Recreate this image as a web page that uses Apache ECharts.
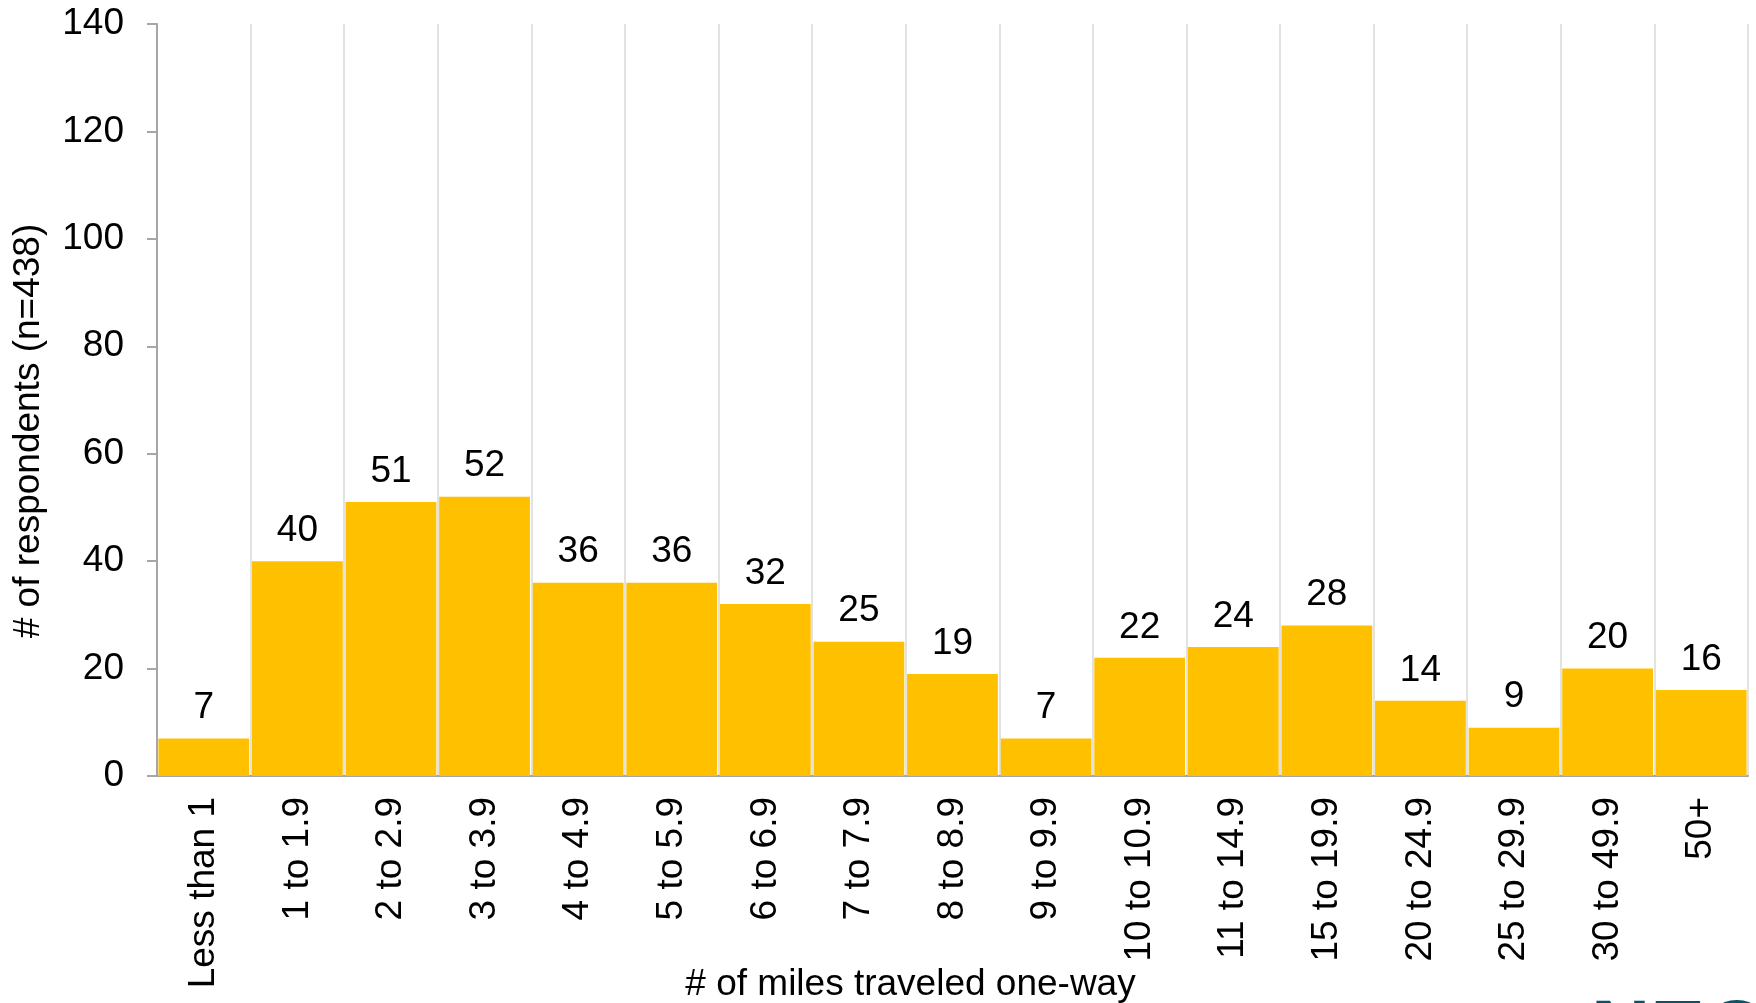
<!DOCTYPE html>
<html style="height: 100%">
   <head>
       <meta charset="utf-8">
   </head>
   <body style="height: 100%; margin: 0; background: #fff">
       <div id="container" style="height: 100%"></div>
       <script type="text/javascript" src="https://cdn.jsdelivr.net/npm/echarts@6/dist/echarts.min.js"></script>
       <script type="text/javascript">
var categories = ['Less than 1', '1 to 1.9', '2 to 2.9', '3 to 3.9', '4 to 4.9', '5 to 5.9',
    '6 to 6.9', '7 to 7.9', '8 to 8.9', '9 to 9.9', '10 to 10.9', '11 to 14.9',
    '15 to 19.9', '20 to 24.9', '25 to 29.9', '30 to 49.9', '50+'];
var respondents = [7, 40, 51, 52, 36, 36, 32, 25, 19, 7, 22, 24, 28, 14, 9, 20, 16];

var dom = document.getElementById("container");
var myChart = echarts.init(dom);
var font = 'Liberation Sans, Arial, sans-serif';
var fs = 37;

var option = {
    animation: false,
    textStyle: { fontFamily: font },
    grid: {
        left: 157,
        right: 8,
        top: 24,
        bottom: 227,
        outerBoundsMode: 'none'
    },
    xAxis: {
        type: 'category',
        data: categories,
        name: '# of miles traveled one-way',
        nameLocation: 'middle',
        nameGap: 190,
        nameMoveOverlap: false,
        nameTextStyle: {
            fontSize: fs,
            color: '#000',
            fontFamily: font,
            padding: [0, 84, 0, 0]
        },
        axisLine: { lineStyle: { color: '#a6a6a6', width: 2 } },
        axisTick: { length: 10, lineStyle: { color: '#a6a6a6', width: 2 } },
        axisLabel: {
            rotate: 90,
            margin: 21,
            fontSize: fs,
            color: '#000',
            fontFamily: font,
            interval: 0
        },
        splitLine: { show: true, lineStyle: { color: '#d9d9d9', width: 1.5 } }
    },
    yAxis: {
        type: 'value',
        min: 0,
        max: 140,
        interval: 20,
        name: '# of respondents (n=438)',
        nameLocation: 'middle',
        nameGap: 110,
        nameMoveOverlap: false,
        nameTextStyle: {
            fontSize: fs,
            color: '#000',
            fontFamily: font,
            padding: [0, 62, 0, 0]
        },
        axisLine: { show: true, lineStyle: { color: '#a6a6a6', width: 2 } },
        axisTick: { show: true, length: 10, lineStyle: { color: '#a6a6a6', width: 2 } },
        axisLabel: {
            margin: 33,
            fontSize: fs,
            color: '#000',
            fontFamily: font
        },
        splitLine: { show: false }
    },
    series: [{
        type: 'bar',
        data: respondents,
        barCategoryGap: '3%',
        itemStyle: { color: '#FFC000' },
        label: {
            show: true,
            position: 'top',
            distance: 12,
            fontSize: fs,
            color: '#000',
            fontFamily: font
        }
    }],
    graphic: [{
        type: 'text',
        left: 1591,
        top: 993,
        style: {
            text: 'NEO',
            fontSize: 82,
            fontWeight: 'bold',
            fill: '#0e5068',
            fontFamily: font
        }
    }]
};
myChart.setOption(option, true);
       </script>
   </body>
</html>
